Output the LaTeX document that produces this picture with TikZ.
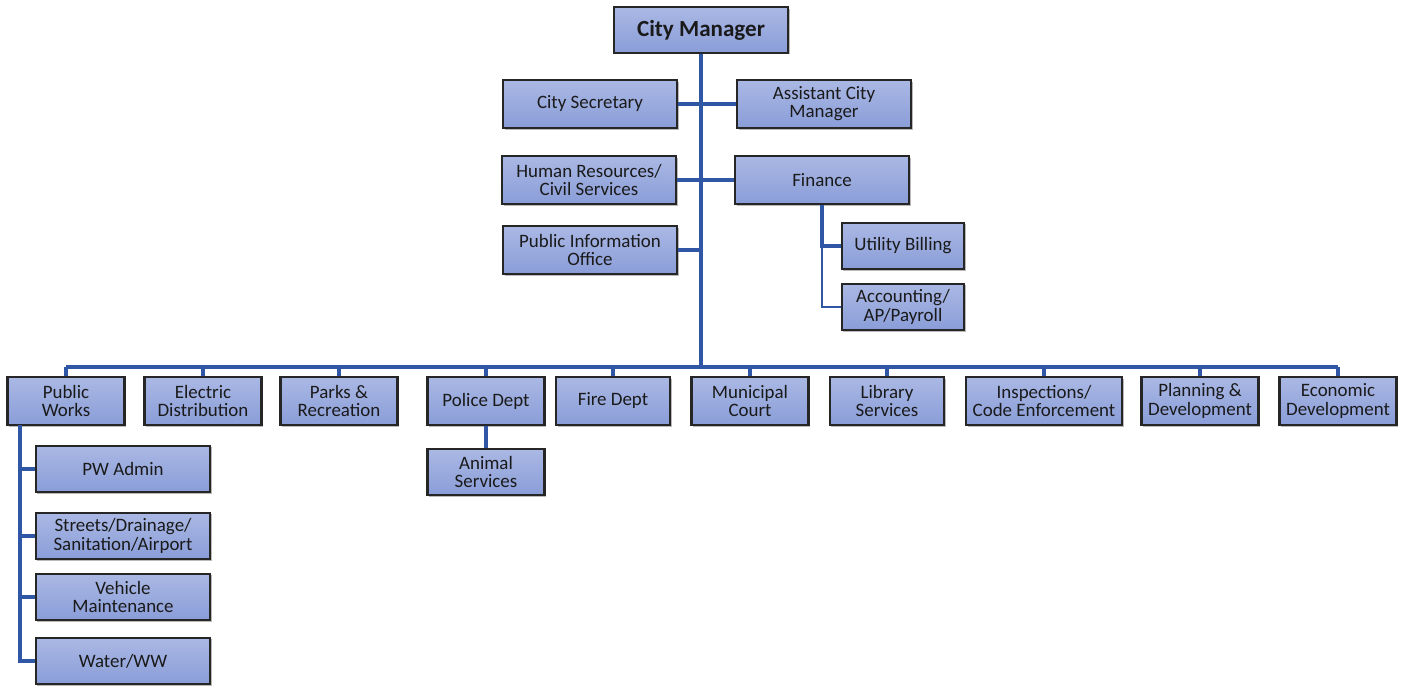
\documentclass[tikz,border=0pt]{standalone}
\usepackage{fontspec}
\setmainfont{Carlito}
\usetikzlibrary{shadows}
\definecolor{lineblue}{HTML}{3057A6}
\definecolor{boxtop}{HTML}{AAB8E4}
\definecolor{boxbot}{HTML}{8A9DD8}
\definecolor{txt}{HTML}{1A1A1A}
\tikzset{
  box/.style={draw=black!85, line width=1.6pt, top color=boxtop, bottom color=boxbot,
    align=center, inner sep=1pt, text=txt, font=\fontsize{14.2}{13.6}\selectfont,
    drop shadow={shadow xshift=1.2pt, shadow yshift=-1.2pt, opacity=0.45, fill=black!60}},
  topbox/.style={box, minimum width=130.5pt, minimum height=36pt},
  botbox/.style={box, minimum width=87.75pt, minimum height=36pt},
  subbox/.style={box, minimum width=131pt, minimum height=35pt},
  finbox/.style={box, minimum width=92pt, minimum height=35pt},
  conn/.style={draw=lineblue, line width=3pt},
  thinconn/.style={draw=lineblue, line width=2pt},
}
\begin{document}
\begin{tikzpicture}[x=0.75pt, y=-0.75pt]
\useasboundingbox (0,0) rectangle (1406,686);
% nodes
\node[box, minimum width=131pt, minimum height=34pt, font=\bfseries\fontsize{17.3}{18}\selectfont] (cm) at (701,30) {City Manager};
\node[topbox] (cs) at (590,104) {City Secretary};
\node[topbox] (acm) at (824,104) {Assistant City\\Manager};
\node[topbox] (hr) at (589,180) {Human Resources/\\Civil Services};
\node[topbox] (fin) at (822,180) {Finance};
\node[topbox] (pio) at (590,250) {Public Information\\Office};
\node[finbox] (ub) at (903,246) {Utility Billing};
\node[finbox] (acc) at (903,307) {Accounting/\\AP/Payroll};

\node[botbox] (pw) at (66,401) {Public\\Works};
\node[botbox] (ed) at (203,401) {Electric\\Distribution};
\node[botbox] (pr) at (339,401) {Parks \&\\Recreation};
\node[botbox] (pd) at (486,401) {Police Dept};
\node[botbox, minimum width=85.5pt] (fd) at (613,401) {Fire Dept};
\node[botbox] (mc) at (750,401) {Municipal\\Court};
\node[botbox, minimum width=86pt] (ls) at (887,401) {Library\\Services};
\node[botbox, minimum width=117pt] (ins) at (1044,401) {Inspections/\\Code Enforcement};
\node[botbox] (pl) at (1200,401) {Planning \&\\Development};
\node[botbox] (eco) at (1338,401) {Economic\\Development};

\node[botbox, minimum height=34.5pt] (as) at (486,472) {Animal\\Services};

\node[subbox] (pwa) at (123,469) {PW Admin};
\node[subbox] (st) at (123,536) {Streets/Drainage/\\Sanitation/Airport};
\node[subbox] (vm) at (123,597) {Vehicle\\Maintenance};
\node[subbox] (ww) at (123,661) {Water/WW};

% connector coordinates
\coordinate (tr) at (701,367);
\coordinate (pwtop) at (20,425);

% connectors
\draw[conn] (cm.south) -- (tr);
\draw[conn] (pw.north |- tr) -- (eco.north |- tr);
\foreach \n in {pw,ed,pr,pd,fd,mc,ls,ins,pl,eco}
  \draw[conn] (\n.north) -- (\n.north |- tr);
\draw[conn] (cs.east) -- (acm.west);
\draw[conn] (hr.east) -- (fin.west);
\draw[conn] (pio.east) -- (pio.east -| cm.south);
\draw[conn] (pd.south) -- (as.north);
\draw[conn] (fin.south) |- (ub.west);
\draw[thinconn] (fin.south |- ub.west) |- (acc.west);
\draw[conn] (pwtop) |- (ww.west);
\draw[conn] (pwtop |- pwa.west) -- (pwa.west);
\draw[conn] (pwtop |- st.west) -- (st.west);
\draw[conn] (pwtop |- vm.west) -- (vm.west);
\end{tikzpicture}
\end{document}
